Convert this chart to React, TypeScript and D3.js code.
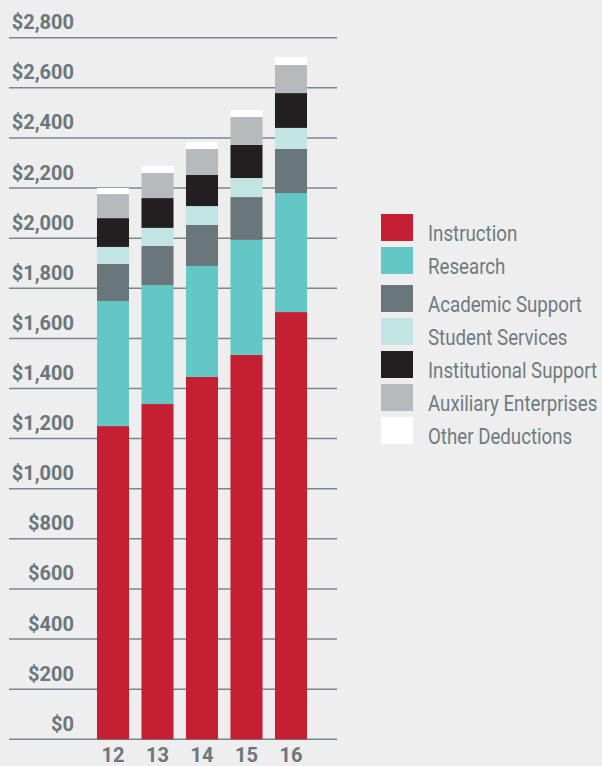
import React from "react";
import * as d3 from "d3";

// fiscal years and spending by function ($ millions)
const years = ["12", "13", "14", "15", "16"];
const instruction = [1250, 1338, 1446, 1534, 1705];
const research = [499, 475, 443, 459, 475];
const academicSupport = [148, 156, 164, 171, 176];
const studentServices = [68, 72, 75, 76, 84];
const institutionalSupport = [115, 119, 124, 132, 139];
const auxiliaryEnterprises = [96, 100, 104, 112, 112];
const otherDeductions = [24, 28, 28, 27, 32];
const yTicks = [0, 200, 400, 600, 800, 1000, 1200, 1400, 1600, 1800, 2000, 2200, 2400, 2600, 2800];

const seriesNames = [
  "Instruction",
  "Research",
  "Academic Support",
  "Student Services",
  "Institutional Support",
  "Auxiliary Enterprises",
  "Other Deductions",
];
const seriesValues = [
  instruction,
  research,
  academicSupport,
  studentServices,
  institutionalSupport,
  auxiliaryEnterprises,
  otherDeductions,
];
const colors = ["#c41f32", "#63c7c5", "#69777b", "#c2e5e3", "#231f20", "#b7babc", "#ffffff"];

const W = 602;
const H = 766;

const App = () => {
  const table = years.map((yr, i) => {
    const row: any = { year: yr };
    seriesNames.forEach((s, j) => (row[s] = seriesValues[j][i]));
    return row;
  });
  const stacked = d3.stack().keys(seriesNames)(table);

  const x = d3
    .scaleBand()
    .domain(years)
    .range([90.75, 313.25])
    .paddingInner(0.28)
    .paddingOuter(0.14);
  const y = d3.scaleLinear().domain([0, 2800]).range([739.3, 37.7]);
  const color = d3.scaleOrdinal<string>().domain(seriesNames).range(colors);

  const labelColor = "#6b777b";

  return (
    <svg
      width={W}
      height={H}
      style={{ position: "absolute", left: 0, top: 0, background: "#edeeed" }}
    >
      <rect width={W} height={H} fill="#edeeed" />
      {/* grid + y labels */}
      {yTicks.map((t) => (
        <g key={t}>
          <line x1={9} x2={337} y1={y(t)} y2={y(t)} stroke="#7b878a" strokeWidth={1.5} />
          <text
            x={74}
            y={y(t) - 8.5}
            textAnchor="end"
            fontFamily="Roboto"
            fontWeight={700}
            fontSize={20}
            fill={labelColor}
          >
            {d3.format("$,")(t)}
          </text>
        </g>
      ))}
      {/* stacked bars */}
      {stacked.map((layer) => (
        <g key={layer.key} fill={color(layer.key)}>
          {layer.map((d: any) => (
            <rect
              key={d.data.year}
              x={x(d.data.year)}
              y={y(d[1])}
              width={x.bandwidth()}
              height={y(d[0]) - y(d[1])}
            />
          ))}
        </g>
      ))}
      {/* x labels */}
      {years.map((yr) => (
        <text
          key={yr}
          x={(x(yr) as number) + x.bandwidth() / 2}
          y={762}
          textAnchor="middle"
          fontFamily="Roboto"
          fontWeight={700}
          fontSize={20}
          fill={labelColor}
        >
          {yr}
        </text>
      ))}
      {/* legend */}
      {seriesNames.map((s, i) => {
        const ly = 214 + i * 33 + (i >= 2 ? 5 : 0);
        return (
          <g key={s} transform={`translate(381,${ly})`}>
            <rect width={32} height={27} fill={color(s)} />
            <text
              transform="translate(47,26.5) scale(0.85,1)"
              fontFamily="Roboto"
              fontWeight={400}
              fontSize={22}
              fill="#6f7b7f"
            >
              {s}
            </text>
          </g>
        );
      })}
    </svg>
  );
};

export default App;
